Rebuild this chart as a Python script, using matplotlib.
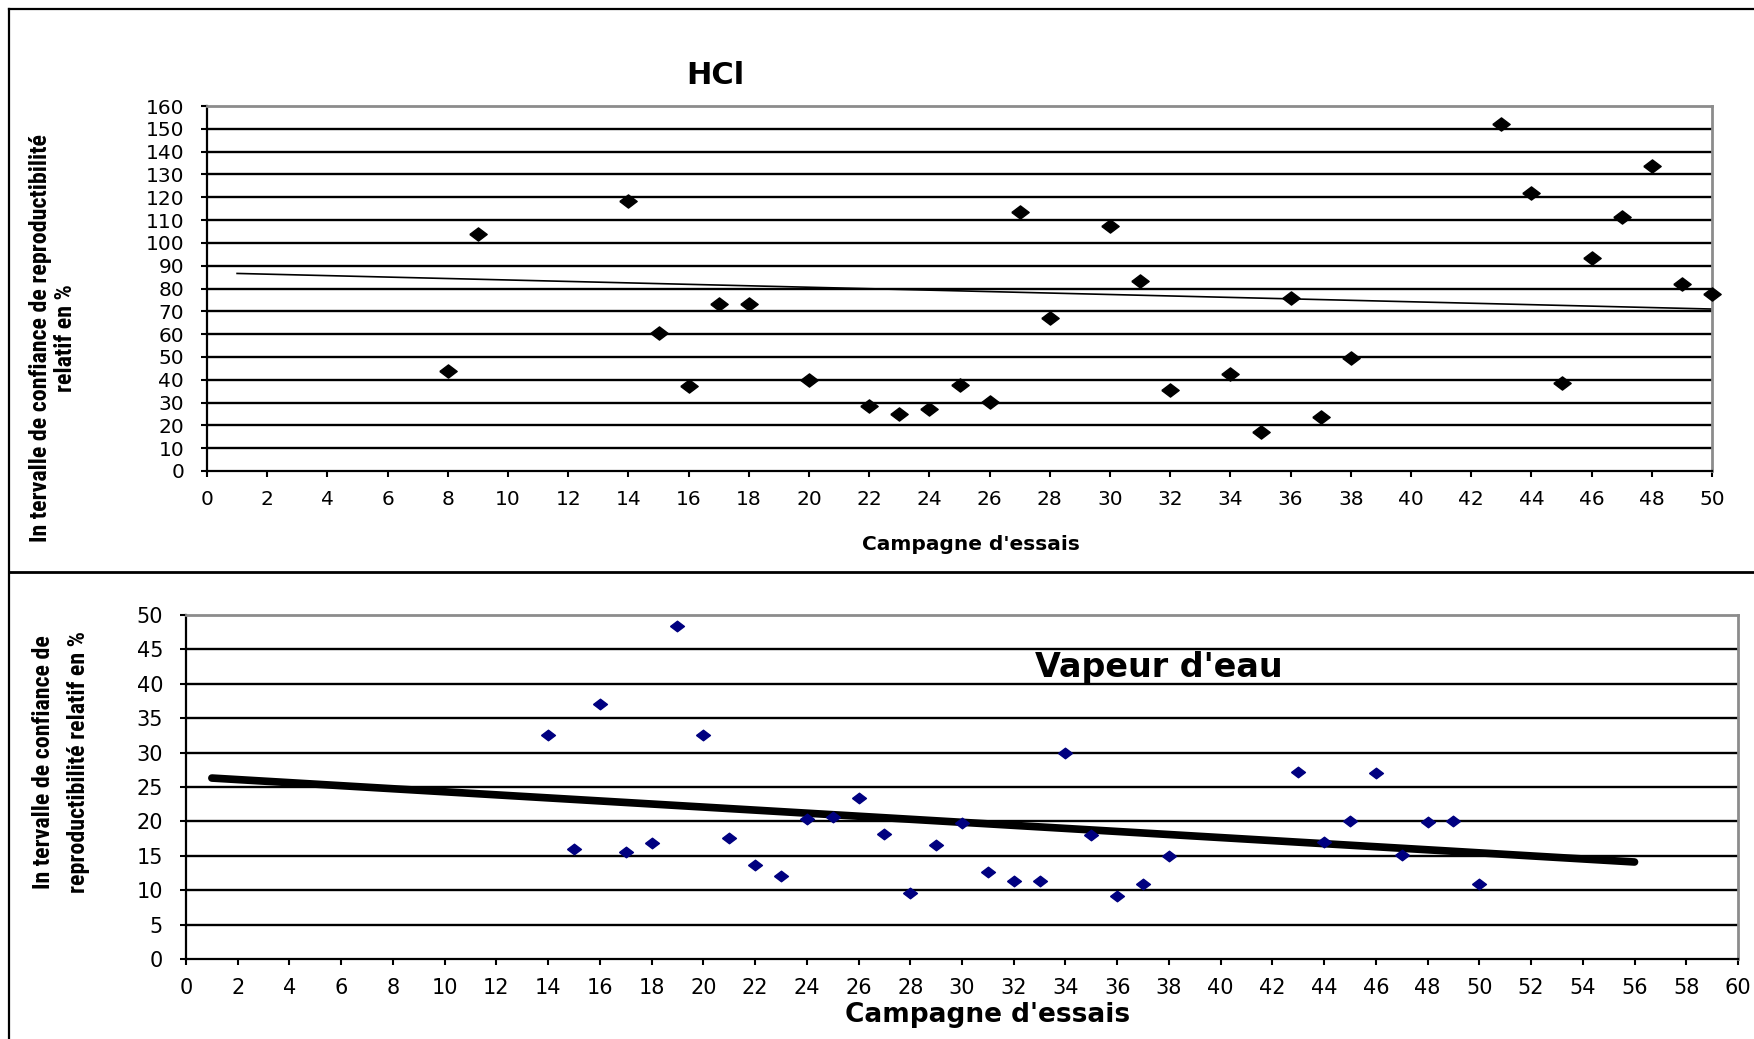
import matplotlib
matplotlib.use("Agg")
import matplotlib.pyplot as plt
from matplotlib import font_manager
from matplotlib.lines import Line2D

# ---------------- data ----------------
hcl_x = [8, 9, 14, 15, 16, 17, 18, 20, 22, 23, 24, 25, 26, 27, 28, 30, 31, 32,
         34, 35, 36, 37, 38, 43, 44, 45, 46, 47, 48, 49, 50]
hcl_y = [44.0, 104.1, 118.3, 60.3, 37.2, 73.1, 73.1, 40.0, 28.4, 25.2, 27.3, 37.8,
         30.1, 113.5, 66.9, 107.5, 83.2, 35.3, 42.6, 17.1, 75.7, 23.6, 49.4,
         152.0, 121.7, 38.5, 93.4, 111.4, 133.7, 81.9, 77.6]
hcl_trend_x = [1, 50]
hcl_trend_y = [86.6, 71.0]

vap_x = [14, 15, 16, 17, 18, 19, 20, 21, 22, 23, 24, 25, 26, 27, 28, 29, 30, 31,
         32, 33, 34, 35, 36, 37, 38, 43, 44, 45, 46, 47, 48, 49, 50]
vap_y = [32.6, 16.0, 37.0, 15.6, 16.9, 48.4, 32.6, 17.6, 13.6, 12.0, 20.3, 20.6,
         23.4, 18.1, 9.6, 16.5, 19.8, 12.7, 11.4, 11.4, 29.9, 18.0, 9.1, 10.9,
         14.9, 27.2, 17.0, 20.1, 27.0, 15.1, 19.9, 20.1, 10.9]
vap_trend_x = [1, 56]
vap_trend_y = [26.3, 14.1]

hcl_xticks = list(range(0, 51, 2))
hcl_yticks = list(range(0, 161, 10))
vap_xticks = list(range(0, 61, 2))
vap_yticks = list(range(0, 51, 5))

title_hcl = "HCl"
title_vap = "Vapeur d'eau"
xlabel = "Campagne d'essais"
ylabel_hcl = "In tervalle de confiance de reproductibilité\nrelatif en %"
ylabel_vap = "In tervalle de confiance de\nreproductibilité relatif en %"

# ---------------- fonts ----------------
names = {f.name for f in font_manager.fontManager.ttflist}
narrow = None
for cand in ["Liberation Sans Narrow", "DejaVu Sans Condensed", "Roboto Condensed",
             "Open Sans Condensed"]:
    if cand in names:
        narrow = cand
        break
plt.rcParams['font.family'] = ['DejaVu Sans']

W, H = 1754, 1039
fig = plt.figure(figsize=(W / 100, H / 100), dpi=100)

diamond = [(-1, 0), (0, 0.76), (1, 0), (0, -0.76), (-1, 0)]


def style_axes(ax, xticks, yticks, xmax, ymax, labelsize):
    ax.set_xlim(0, xmax)
    ax.set_ylim(0, ymax)
    ax.set_xticks(xticks)
    ax.set_yticks(yticks)
    for y in yticks[1:-1]:
        ax.axhline(y, color='black', lw=1.7, zorder=1)
    ax.spines['top'].set_color('#8c8c8c')
    ax.spines['right'].set_color('#8c8c8c')
    ax.spines['top'].set_linewidth(2)
    ax.spines['right'].set_linewidth(2)
    ax.spines['left'].set_linewidth(1.6)
    ax.spines['bottom'].set_linewidth(1.6)
    ax.tick_params(direction='out', length=4.5, width=1.5, labelsize=labelsize,
                   color='black')
    ax.tick_params(axis='y', pad=12)
    ax.tick_params(axis='x', pad=9)


# ---------------- top panel (HCl) ----------------
ax1 = fig.add_axes([207 / W, 1 - 471 / H, (1712 - 207) / W, (471 - 106) / H])
style_axes(ax1, hcl_xticks, hcl_yticks, 50, 160, 14.5)
ax1.plot(hcl_trend_x, hcl_trend_y, color='black', lw=1.2, zorder=2)
ax1.plot(hcl_x, hcl_y, linestyle='none', marker=diamond, markersize=12.5,
         color='black', zorder=3, clip_on=False)

fig.text(715 / W, 1 - 76 / H, title_hcl, fontsize=22, fontweight='bold',
         ha='center', va='center')
fig.text(971 / W, 1 - 545 / H, xlabel, fontsize=14.5, fontweight='bold',
         ha='center', va='center')
if narrow:
    fig.text(53 / W, 1 - 338 / H, ylabel_hcl, fontsize=17.3, fontweight='bold',
             family=[narrow, 'DejaVu Sans'], rotation=90, ha='center',
             va='center', multialignment='center', linespacing=1.1)
else:
    fig.text(53 / W, 1 - 338 / H, ylabel_hcl, fontsize=13, fontweight='bold',
             rotation=90, ha='center', va='center', multialignment='center',
             linespacing=1.4)

# ---------------- bottom panel (Vapeur d'eau) ----------------
ax2 = fig.add_axes([186 / W, 1 - 959 / H, (1738 - 186) / W, (959 - 615) / H])
style_axes(ax2, vap_xticks, vap_yticks, 60, 50, 15)
ax2.plot(vap_trend_x, vap_trend_y, color='black', lw=5.5, zorder=2,
         solid_capstyle='round')
ax2.plot(vap_x, vap_y, linestyle='none', marker=diamond, markersize=10,
         color='#000080', zorder=3)

fig.text(1159 / W, 1 - 668 / H, title_vap, fontsize=24, fontweight='bold',
         ha='center', va='center')
fig.text(988 / W, 1 - 1015 / H, xlabel, fontsize=19, fontweight='bold',
         ha='center', va='center')
if narrow:
    fig.text(61 / W, 1 - 762 / H, ylabel_vap, fontsize=17.3, fontweight='bold',
             family=[narrow, 'DejaVu Sans'], rotation=90, ha='center',
             va='center', multialignment='center', linespacing=1.65)
else:
    fig.text(61 / W, 1 - 762 / H, ylabel_vap, fontsize=14, fontweight='bold',
             rotation=90, ha='center', va='center', multialignment='center',
             linespacing=1.9)

# ---------------- outer frame ----------------
fig.add_artist(Line2D([9 / W, 1], [1 - 9 / H, 1 - 9 / H], color='black', lw=1.6,
                      transform=fig.transFigure))
fig.add_artist(Line2D([9 / W, 9 / W], [0, 1 - 9 / H], color='black', lw=1.6,
                      transform=fig.transFigure))
fig.add_artist(Line2D([9 / W, 1], [1 - 572 / H, 1 - 572 / H], color='black',
                      lw=2, transform=fig.transFigure))

fig.savefig("out.png", dpi=100, facecolor='white')
